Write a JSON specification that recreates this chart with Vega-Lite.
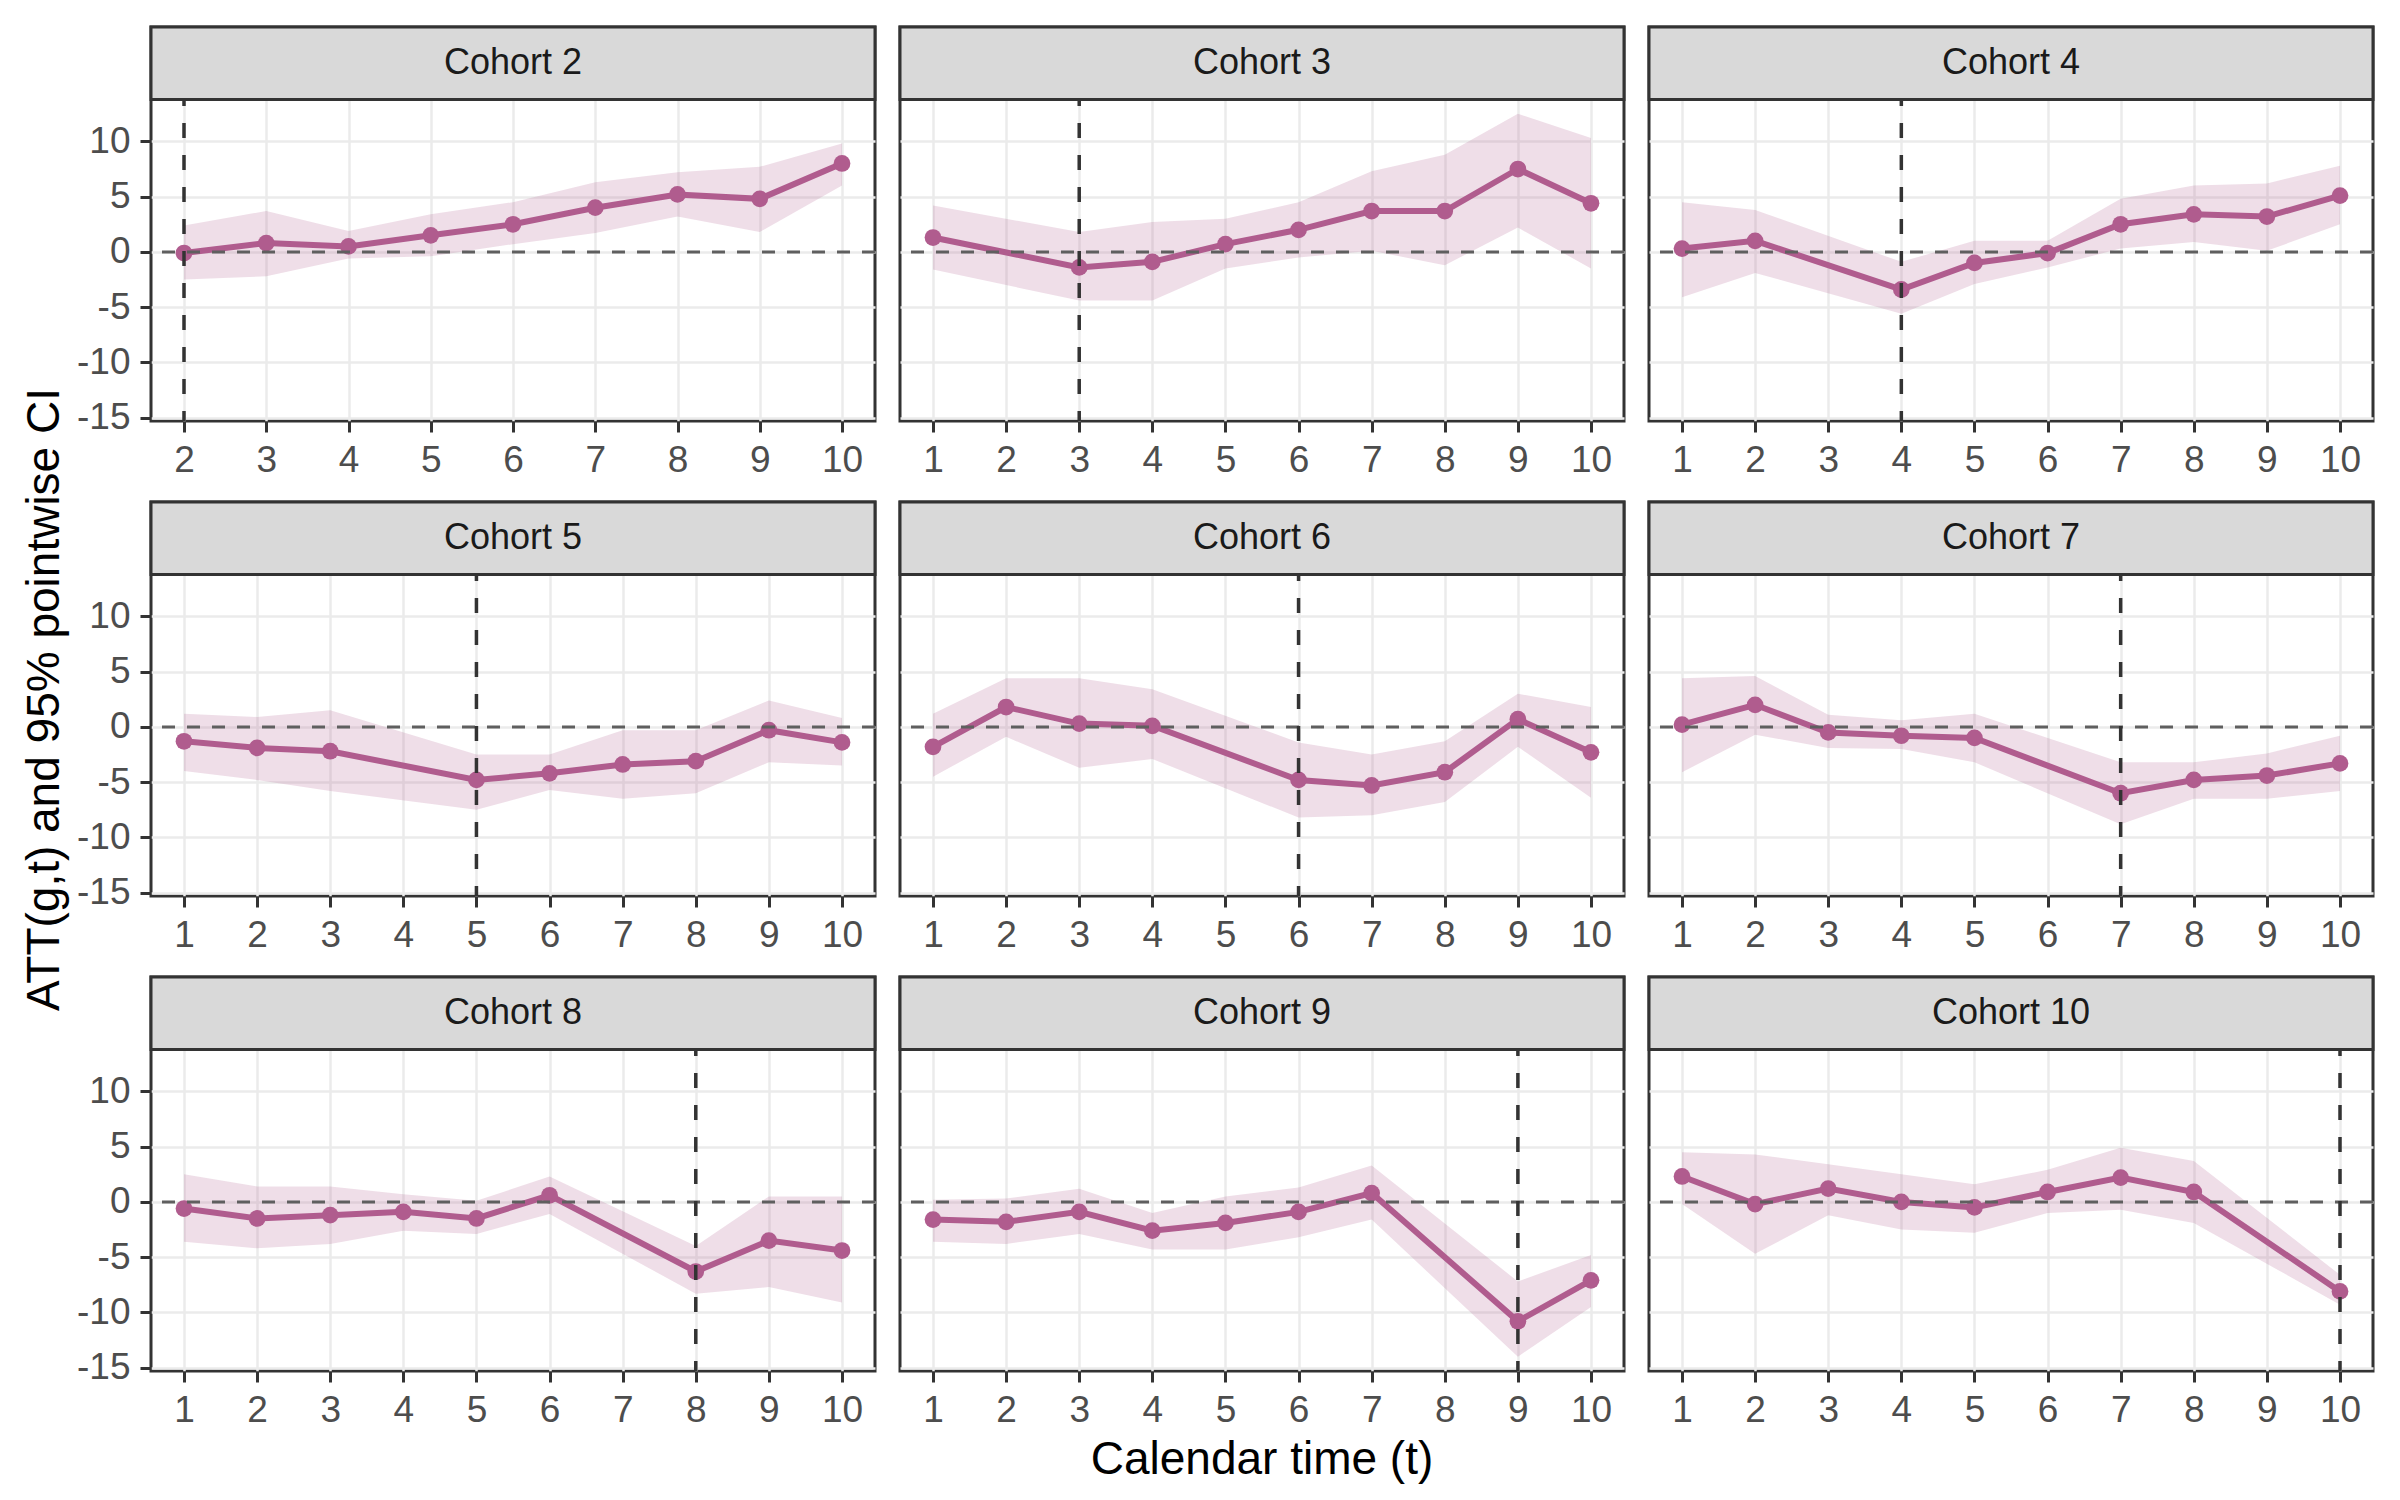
{
  "$schema": "https://vega.github.io/schema/vega-lite/v6.json",
  "background": "white",
  "padding": {"left": 20, "top": 23, "right": 24, "bottom": 18},
  "title": {
    "text": "Calendar time (t)",
    "orient": "bottom",
    "frame": "bounds",
    "anchor": "middle",
    "dx": 64,
    "offset": 8
  },
  "data": {
    "values": [
      {"cohort": "Cohort 2", "g": 2, "t": 2, "att": -0.1, "lower": -2.5, "upper": 2.4},
      {"cohort": "Cohort 2", "g": 2, "t": 3, "att": 0.8, "lower": -2.2, "upper": 3.7},
      {"cohort": "Cohort 2", "g": 2, "t": 4, "att": 0.5, "lower": -0.6, "upper": 1.9},
      {"cohort": "Cohort 2", "g": 2, "t": 5, "att": 1.5, "lower": -0.4, "upper": 3.4},
      {"cohort": "Cohort 2", "g": 2, "t": 6, "att": 2.5, "lower": 0.7, "upper": 4.5},
      {"cohort": "Cohort 2", "g": 2, "t": 7, "att": 4.0, "lower": 1.7, "upper": 6.3},
      {"cohort": "Cohort 2", "g": 2, "t": 8, "att": 5.2, "lower": 3.2, "upper": 7.2},
      {"cohort": "Cohort 2", "g": 2, "t": 9, "att": 4.8, "lower": 1.8, "upper": 7.7},
      {"cohort": "Cohort 2", "g": 2, "t": 10, "att": 8.0, "lower": 6.0, "upper": 9.8},
      {"cohort": "Cohort 3", "g": 3, "t": 1, "att": 1.3, "lower": -1.6, "upper": 4.2},
      {"cohort": "Cohort 3", "g": 3, "t": 3, "att": -1.4, "lower": -4.4, "upper": 1.8},
      {"cohort": "Cohort 3", "g": 3, "t": 4, "att": -0.9, "lower": -4.4, "upper": 2.7},
      {"cohort": "Cohort 3", "g": 3, "t": 5, "att": 0.7, "lower": -1.5, "upper": 3.0},
      {"cohort": "Cohort 3", "g": 3, "t": 6, "att": 2.0, "lower": -0.5, "upper": 4.5},
      {"cohort": "Cohort 3", "g": 3, "t": 7, "att": 3.7, "lower": 0.1, "upper": 7.3},
      {"cohort": "Cohort 3", "g": 3, "t": 8, "att": 3.7, "lower": -1.2, "upper": 8.8},
      {"cohort": "Cohort 3", "g": 3, "t": 9, "att": 7.5, "lower": 2.2, "upper": 12.5},
      {"cohort": "Cohort 3", "g": 3, "t": 10, "att": 4.4, "lower": -1.5, "upper": 10.3},
      {"cohort": "Cohort 4", "g": 4, "t": 1, "att": 0.3, "lower": -4.1, "upper": 4.5},
      {"cohort": "Cohort 4", "g": 4, "t": 2, "att": 1.0, "lower": -1.9, "upper": 3.8},
      {"cohort": "Cohort 4", "g": 4, "t": 4, "att": -3.4, "lower": -5.6, "upper": -0.9},
      {"cohort": "Cohort 4", "g": 4, "t": 5, "att": -1.0, "lower": -2.9, "upper": 1.0},
      {"cohort": "Cohort 4", "g": 4, "t": 6, "att": -0.1, "lower": -1.4, "upper": 1.0},
      {"cohort": "Cohort 4", "g": 4, "t": 7, "att": 2.5, "lower": 0.3, "upper": 4.8},
      {"cohort": "Cohort 4", "g": 4, "t": 8, "att": 3.4, "lower": 0.9, "upper": 6.0},
      {"cohort": "Cohort 4", "g": 4, "t": 9, "att": 3.2, "lower": 0.1, "upper": 6.2},
      {"cohort": "Cohort 4", "g": 4, "t": 10, "att": 5.1, "lower": 2.5, "upper": 7.8},
      {"cohort": "Cohort 5", "g": 5, "t": 1, "att": -1.3, "lower": -4.0, "upper": 1.2},
      {"cohort": "Cohort 5", "g": 5, "t": 2, "att": -1.9, "lower": -4.8, "upper": 0.9},
      {"cohort": "Cohort 5", "g": 5, "t": 3, "att": -2.2, "lower": -5.8, "upper": 1.5},
      {"cohort": "Cohort 5", "g": 5, "t": 5, "att": -4.8, "lower": -7.5, "upper": -2.5},
      {"cohort": "Cohort 5", "g": 5, "t": 6, "att": -4.2, "lower": -5.7, "upper": -2.5},
      {"cohort": "Cohort 5", "g": 5, "t": 7, "att": -3.4, "lower": -6.5, "upper": -0.3},
      {"cohort": "Cohort 5", "g": 5, "t": 8, "att": -3.1, "lower": -6.0, "upper": -0.3},
      {"cohort": "Cohort 5", "g": 5, "t": 9, "att": -0.3, "lower": -3.2, "upper": 2.4},
      {"cohort": "Cohort 5", "g": 5, "t": 10, "att": -1.4, "lower": -3.5, "upper": 0.8},
      {"cohort": "Cohort 6", "g": 6, "t": 1, "att": -1.8, "lower": -4.5, "upper": 1.2},
      {"cohort": "Cohort 6", "g": 6, "t": 2, "att": 1.8, "lower": -0.9, "upper": 4.4},
      {"cohort": "Cohort 6", "g": 6, "t": 3, "att": 0.3, "lower": -3.7, "upper": 4.4},
      {"cohort": "Cohort 6", "g": 6, "t": 4, "att": 0.1, "lower": -2.9, "upper": 3.4},
      {"cohort": "Cohort 6", "g": 6, "t": 6, "att": -4.8, "lower": -8.2, "upper": -1.4},
      {"cohort": "Cohort 6", "g": 6, "t": 7, "att": -5.3, "lower": -8.0, "upper": -2.5},
      {"cohort": "Cohort 6", "g": 6, "t": 8, "att": -4.1, "lower": -6.8, "upper": -1.3},
      {"cohort": "Cohort 6", "g": 6, "t": 9, "att": 0.7, "lower": -1.8, "upper": 3.0},
      {"cohort": "Cohort 6", "g": 6, "t": 10, "att": -2.3, "lower": -6.4, "upper": 1.8},
      {"cohort": "Cohort 7", "g": 7, "t": 1, "att": 0.2, "lower": -4.1, "upper": 4.4},
      {"cohort": "Cohort 7", "g": 7, "t": 2, "att": 2.0, "lower": -0.7, "upper": 4.6},
      {"cohort": "Cohort 7", "g": 7, "t": 3, "att": -0.5, "lower": -1.9, "upper": 1.1},
      {"cohort": "Cohort 7", "g": 7, "t": 4, "att": -0.8, "lower": -2.0, "upper": 0.6},
      {"cohort": "Cohort 7", "g": 7, "t": 5, "att": -1.0, "lower": -3.2, "upper": 1.2},
      {"cohort": "Cohort 7", "g": 7, "t": 7, "att": -6.0, "lower": -8.8, "upper": -3.2},
      {"cohort": "Cohort 7", "g": 7, "t": 8, "att": -4.8, "lower": -6.5, "upper": -3.2},
      {"cohort": "Cohort 7", "g": 7, "t": 9, "att": -4.4, "lower": -6.5, "upper": -2.4},
      {"cohort": "Cohort 7", "g": 7, "t": 10, "att": -3.3, "lower": -5.8, "upper": -0.8},
      {"cohort": "Cohort 8", "g": 8, "t": 1, "att": -0.6, "lower": -3.6, "upper": 2.5},
      {"cohort": "Cohort 8", "g": 8, "t": 2, "att": -1.5, "lower": -4.2, "upper": 1.4},
      {"cohort": "Cohort 8", "g": 8, "t": 3, "att": -1.2, "lower": -3.8, "upper": 1.4},
      {"cohort": "Cohort 8", "g": 8, "t": 4, "att": -0.9, "lower": -2.6, "upper": 0.7},
      {"cohort": "Cohort 8", "g": 8, "t": 5, "att": -1.5, "lower": -2.9, "upper": 0.1},
      {"cohort": "Cohort 8", "g": 8, "t": 6, "att": 0.6, "lower": -1.1, "upper": 2.3},
      {"cohort": "Cohort 8", "g": 8, "t": 8, "att": -6.3, "lower": -8.3, "upper": -4.0},
      {"cohort": "Cohort 8", "g": 8, "t": 9, "att": -3.5, "lower": -7.7, "upper": 0.5},
      {"cohort": "Cohort 8", "g": 8, "t": 10, "att": -4.4, "lower": -9.1, "upper": 0.5},
      {"cohort": "Cohort 9", "g": 9, "t": 1, "att": -1.6, "lower": -3.6, "upper": 0.2},
      {"cohort": "Cohort 9", "g": 9, "t": 2, "att": -1.8, "lower": -3.8, "upper": 0.3},
      {"cohort": "Cohort 9", "g": 9, "t": 3, "att": -0.9, "lower": -2.9, "upper": 1.2},
      {"cohort": "Cohort 9", "g": 9, "t": 4, "att": -2.6, "lower": -4.3, "upper": -1.0},
      {"cohort": "Cohort 9", "g": 9, "t": 5, "att": -1.9, "lower": -4.3, "upper": 0.5},
      {"cohort": "Cohort 9", "g": 9, "t": 6, "att": -0.9, "lower": -3.2, "upper": 1.3},
      {"cohort": "Cohort 9", "g": 9, "t": 7, "att": 0.8, "lower": -1.6, "upper": 3.3},
      {"cohort": "Cohort 9", "g": 9, "t": 9, "att": -10.8, "lower": -14.0, "upper": -7.2},
      {"cohort": "Cohort 9", "g": 9, "t": 10, "att": -7.1, "lower": -9.5, "upper": -4.8},
      {"cohort": "Cohort 10", "g": 10, "t": 1, "att": 2.3, "lower": -0.2, "upper": 4.5},
      {"cohort": "Cohort 10", "g": 10, "t": 2, "att": -0.2, "lower": -4.7, "upper": 4.3},
      {"cohort": "Cohort 10", "g": 10, "t": 3, "att": 1.2, "lower": -1.2, "upper": 3.4},
      {"cohort": "Cohort 10", "g": 10, "t": 4, "att": 0.0, "lower": -2.5, "upper": 2.5},
      {"cohort": "Cohort 10", "g": 10, "t": 5, "att": -0.5, "lower": -2.8, "upper": 1.6},
      {"cohort": "Cohort 10", "g": 10, "t": 6, "att": 0.9, "lower": -1.0, "upper": 2.9},
      {"cohort": "Cohort 10", "g": 10, "t": 7, "att": 2.2, "lower": -0.7, "upper": 4.9},
      {"cohort": "Cohort 10", "g": 10, "t": 8, "att": 0.9, "lower": -1.9, "upper": 3.7},
      {"cohort": "Cohort 10", "g": 10, "t": 10, "att": -8.1, "lower": -9.3, "upper": -6.6}
    ]
  },
  "columns": 3,
  "bounds": "flush",
  "spacing": {"row": 81, "column": 25},
  "resolve": {"scale": {"x": "independent", "y": "independent"}},
  "concat": [
    {
      "transform": [{"filter": "datum.g == 2"}],
      "width": 724, "height": 394,
      "encoding": {"x": {"field": "t", "type": "quantitative", "scale": {"nice": false, "zero": false, "padding": 33}, "axis": {"values": [1, 2, 3, 4, 5, 6, 7, 8, 9, 10], "title": null}}},
      "layer": [
        {"mark": {"type": "area", "color": "#B05C8E", "opacity": 0.2}, "encoding": {"y": {"field": "lower", "type": "quantitative", "scale": {"domain": [-15.3, 20.35], "nice": false, "zero": false}, "axis": {"values": [-15, -10, -5, 0, 5, 10], "title": null, "labelExpr": "'' + datum.value"}}, "y2": {"field": "upper"}}},
        {"mark": {"type": "line", "color": "#B05C8E", "strokeWidth": 6}, "encoding": {"y": {"field": "att", "type": "quantitative"}}},
        {"mark": {"type": "circle", "color": "#B05C8E", "opacity": 1, "size": 280}, "encoding": {"y": {"field": "att", "type": "quantitative"}}},
        {"transform": [{"filter": "datum.t == 10"}], "mark": {"type": "rule", "color": "#5F5F5F", "strokeWidth": 3, "strokeDash": [13, 12]}, "encoding": {"x": null, "y": {"datum": 0}}},
        {"transform": [{"filter": "datum.t == datum.g"}], "mark": {"type": "rule", "color": "#333333", "strokeWidth": 3.5, "strokeDash": [15, 17]}, "encoding": {}},
        {"transform": [{"filter": "datum.t == 10"}], "mark": {"type": "rect", "fill": "#D9D9D9", "stroke": "#333333", "strokeWidth": 3}, "encoding": {"x": null, "y": {"datum": 13.8}, "y2": {"datum": 20.35}}},
        {"transform": [{"filter": "datum.t == 10"}], "mark": {"type": "text", "font": "Liberation Sans", "fontSize": 36, "color": "#1A1A1A", "baseline": "middle"}, "encoding": {"x": null, "y": {"datum": 17.1}, "text": {"field": "cohort", "type": "nominal"}}}
      ]
    },
    {
      "transform": [{"filter": "datum.g == 3"}],
      "width": 724, "height": 394,
      "encoding": {"x": {"field": "t", "type": "quantitative", "scale": {"nice": false, "zero": false, "padding": 33}, "axis": {"values": [1, 2, 3, 4, 5, 6, 7, 8, 9, 10], "title": null}}},
      "layer": [
        {"mark": {"type": "area", "color": "#B05C8E", "opacity": 0.2}, "encoding": {"y": {"field": "lower", "type": "quantitative", "scale": {"domain": [-15.3, 20.35], "nice": false, "zero": false}, "axis": {"values": [-15, -10, -5, 0, 5, 10], "title": null, "labels": false, "ticks": false}}, "y2": {"field": "upper"}}},
        {"mark": {"type": "line", "color": "#B05C8E", "strokeWidth": 6}, "encoding": {"y": {"field": "att", "type": "quantitative"}}},
        {"mark": {"type": "circle", "color": "#B05C8E", "opacity": 1, "size": 280}, "encoding": {"y": {"field": "att", "type": "quantitative"}}},
        {"transform": [{"filter": "datum.t == 10"}], "mark": {"type": "rule", "color": "#5F5F5F", "strokeWidth": 3, "strokeDash": [13, 12]}, "encoding": {"x": null, "y": {"datum": 0}}},
        {"transform": [{"filter": "datum.t == datum.g"}], "mark": {"type": "rule", "color": "#333333", "strokeWidth": 3.5, "strokeDash": [15, 17]}, "encoding": {}},
        {"transform": [{"filter": "datum.t == 10"}], "mark": {"type": "rect", "fill": "#D9D9D9", "stroke": "#333333", "strokeWidth": 3}, "encoding": {"x": null, "y": {"datum": 13.8}, "y2": {"datum": 20.35}}},
        {"transform": [{"filter": "datum.t == 10"}], "mark": {"type": "text", "font": "Liberation Sans", "fontSize": 36, "color": "#1A1A1A", "baseline": "middle"}, "encoding": {"x": null, "y": {"datum": 17.1}, "text": {"field": "cohort", "type": "nominal"}}}
      ]
    },
    {
      "transform": [{"filter": "datum.g == 4"}],
      "width": 724, "height": 394,
      "encoding": {"x": {"field": "t", "type": "quantitative", "scale": {"nice": false, "zero": false, "padding": 33}, "axis": {"values": [1, 2, 3, 4, 5, 6, 7, 8, 9, 10], "title": null}}},
      "layer": [
        {"mark": {"type": "area", "color": "#B05C8E", "opacity": 0.2}, "encoding": {"y": {"field": "lower", "type": "quantitative", "scale": {"domain": [-15.3, 20.35], "nice": false, "zero": false}, "axis": {"values": [-15, -10, -5, 0, 5, 10], "title": null, "labels": false, "ticks": false}}, "y2": {"field": "upper"}}},
        {"mark": {"type": "line", "color": "#B05C8E", "strokeWidth": 6}, "encoding": {"y": {"field": "att", "type": "quantitative"}}},
        {"mark": {"type": "circle", "color": "#B05C8E", "opacity": 1, "size": 280}, "encoding": {"y": {"field": "att", "type": "quantitative"}}},
        {"transform": [{"filter": "datum.t == 10"}], "mark": {"type": "rule", "color": "#5F5F5F", "strokeWidth": 3, "strokeDash": [13, 12]}, "encoding": {"x": null, "y": {"datum": 0}}},
        {"transform": [{"filter": "datum.t == datum.g"}], "mark": {"type": "rule", "color": "#333333", "strokeWidth": 3.5, "strokeDash": [15, 17]}, "encoding": {}},
        {"transform": [{"filter": "datum.t == 10"}], "mark": {"type": "rect", "fill": "#D9D9D9", "stroke": "#333333", "strokeWidth": 3}, "encoding": {"x": null, "y": {"datum": 13.8}, "y2": {"datum": 20.35}}},
        {"transform": [{"filter": "datum.t == 10"}], "mark": {"type": "text", "font": "Liberation Sans", "fontSize": 36, "color": "#1A1A1A", "baseline": "middle"}, "encoding": {"x": null, "y": {"datum": 17.1}, "text": {"field": "cohort", "type": "nominal"}}}
      ]
    },
    {
      "transform": [{"filter": "datum.g == 5"}],
      "width": 724, "height": 394,
      "encoding": {"x": {"field": "t", "type": "quantitative", "scale": {"nice": false, "zero": false, "padding": 33}, "axis": {"values": [1, 2, 3, 4, 5, 6, 7, 8, 9, 10], "title": null}}},
      "layer": [
        {"mark": {"type": "area", "color": "#B05C8E", "opacity": 0.2}, "encoding": {"y": {"field": "lower", "type": "quantitative", "scale": {"domain": [-15.3, 20.35], "nice": false, "zero": false}, "axis": {"values": [-15, -10, -5, 0, 5, 10], "title": "ATT(g,t) and 95% pointwise CI", "labelExpr": "'' + datum.value"}}, "y2": {"field": "upper"}}},
        {"mark": {"type": "line", "color": "#B05C8E", "strokeWidth": 6}, "encoding": {"y": {"field": "att", "type": "quantitative"}}},
        {"mark": {"type": "circle", "color": "#B05C8E", "opacity": 1, "size": 280}, "encoding": {"y": {"field": "att", "type": "quantitative"}}},
        {"transform": [{"filter": "datum.t == 10"}], "mark": {"type": "rule", "color": "#5F5F5F", "strokeWidth": 3, "strokeDash": [13, 12]}, "encoding": {"x": null, "y": {"datum": 0}}},
        {"transform": [{"filter": "datum.t == datum.g"}], "mark": {"type": "rule", "color": "#333333", "strokeWidth": 3.5, "strokeDash": [15, 17]}, "encoding": {}},
        {"transform": [{"filter": "datum.t == 10"}], "mark": {"type": "rect", "fill": "#D9D9D9", "stroke": "#333333", "strokeWidth": 3}, "encoding": {"x": null, "y": {"datum": 13.8}, "y2": {"datum": 20.35}}},
        {"transform": [{"filter": "datum.t == 10"}], "mark": {"type": "text", "font": "Liberation Sans", "fontSize": 36, "color": "#1A1A1A", "baseline": "middle"}, "encoding": {"x": null, "y": {"datum": 17.1}, "text": {"field": "cohort", "type": "nominal"}}}
      ]
    },
    {
      "transform": [{"filter": "datum.g == 6"}],
      "width": 724, "height": 394,
      "encoding": {"x": {"field": "t", "type": "quantitative", "scale": {"nice": false, "zero": false, "padding": 33}, "axis": {"values": [1, 2, 3, 4, 5, 6, 7, 8, 9, 10], "title": null}}},
      "layer": [
        {"mark": {"type": "area", "color": "#B05C8E", "opacity": 0.2}, "encoding": {"y": {"field": "lower", "type": "quantitative", "scale": {"domain": [-15.3, 20.35], "nice": false, "zero": false}, "axis": {"values": [-15, -10, -5, 0, 5, 10], "title": null, "labels": false, "ticks": false}}, "y2": {"field": "upper"}}},
        {"mark": {"type": "line", "color": "#B05C8E", "strokeWidth": 6}, "encoding": {"y": {"field": "att", "type": "quantitative"}}},
        {"mark": {"type": "circle", "color": "#B05C8E", "opacity": 1, "size": 280}, "encoding": {"y": {"field": "att", "type": "quantitative"}}},
        {"transform": [{"filter": "datum.t == 10"}], "mark": {"type": "rule", "color": "#5F5F5F", "strokeWidth": 3, "strokeDash": [13, 12]}, "encoding": {"x": null, "y": {"datum": 0}}},
        {"transform": [{"filter": "datum.t == datum.g"}], "mark": {"type": "rule", "color": "#333333", "strokeWidth": 3.5, "strokeDash": [15, 17]}, "encoding": {}},
        {"transform": [{"filter": "datum.t == 10"}], "mark": {"type": "rect", "fill": "#D9D9D9", "stroke": "#333333", "strokeWidth": 3}, "encoding": {"x": null, "y": {"datum": 13.8}, "y2": {"datum": 20.35}}},
        {"transform": [{"filter": "datum.t == 10"}], "mark": {"type": "text", "font": "Liberation Sans", "fontSize": 36, "color": "#1A1A1A", "baseline": "middle"}, "encoding": {"x": null, "y": {"datum": 17.1}, "text": {"field": "cohort", "type": "nominal"}}}
      ]
    },
    {
      "transform": [{"filter": "datum.g == 7"}],
      "width": 724, "height": 394,
      "encoding": {"x": {"field": "t", "type": "quantitative", "scale": {"nice": false, "zero": false, "padding": 33}, "axis": {"values": [1, 2, 3, 4, 5, 6, 7, 8, 9, 10], "title": null}}},
      "layer": [
        {"mark": {"type": "area", "color": "#B05C8E", "opacity": 0.2}, "encoding": {"y": {"field": "lower", "type": "quantitative", "scale": {"domain": [-15.3, 20.35], "nice": false, "zero": false}, "axis": {"values": [-15, -10, -5, 0, 5, 10], "title": null, "labels": false, "ticks": false}}, "y2": {"field": "upper"}}},
        {"mark": {"type": "line", "color": "#B05C8E", "strokeWidth": 6}, "encoding": {"y": {"field": "att", "type": "quantitative"}}},
        {"mark": {"type": "circle", "color": "#B05C8E", "opacity": 1, "size": 280}, "encoding": {"y": {"field": "att", "type": "quantitative"}}},
        {"transform": [{"filter": "datum.t == 10"}], "mark": {"type": "rule", "color": "#5F5F5F", "strokeWidth": 3, "strokeDash": [13, 12]}, "encoding": {"x": null, "y": {"datum": 0}}},
        {"transform": [{"filter": "datum.t == datum.g"}], "mark": {"type": "rule", "color": "#333333", "strokeWidth": 3.5, "strokeDash": [15, 17]}, "encoding": {}},
        {"transform": [{"filter": "datum.t == 10"}], "mark": {"type": "rect", "fill": "#D9D9D9", "stroke": "#333333", "strokeWidth": 3}, "encoding": {"x": null, "y": {"datum": 13.8}, "y2": {"datum": 20.35}}},
        {"transform": [{"filter": "datum.t == 10"}], "mark": {"type": "text", "font": "Liberation Sans", "fontSize": 36, "color": "#1A1A1A", "baseline": "middle"}, "encoding": {"x": null, "y": {"datum": 17.1}, "text": {"field": "cohort", "type": "nominal"}}}
      ]
    },
    {
      "transform": [{"filter": "datum.g == 8"}],
      "width": 724, "height": 394,
      "encoding": {"x": {"field": "t", "type": "quantitative", "scale": {"nice": false, "zero": false, "padding": 33}, "axis": {"values": [1, 2, 3, 4, 5, 6, 7, 8, 9, 10], "title": null}}},
      "layer": [
        {"mark": {"type": "area", "color": "#B05C8E", "opacity": 0.2}, "encoding": {"y": {"field": "lower", "type": "quantitative", "scale": {"domain": [-15.3, 20.35], "nice": false, "zero": false}, "axis": {"values": [-15, -10, -5, 0, 5, 10], "title": null, "labelExpr": "'' + datum.value"}}, "y2": {"field": "upper"}}},
        {"mark": {"type": "line", "color": "#B05C8E", "strokeWidth": 6}, "encoding": {"y": {"field": "att", "type": "quantitative"}}},
        {"mark": {"type": "circle", "color": "#B05C8E", "opacity": 1, "size": 280}, "encoding": {"y": {"field": "att", "type": "quantitative"}}},
        {"transform": [{"filter": "datum.t == 10"}], "mark": {"type": "rule", "color": "#5F5F5F", "strokeWidth": 3, "strokeDash": [13, 12]}, "encoding": {"x": null, "y": {"datum": 0}}},
        {"transform": [{"filter": "datum.t == datum.g"}], "mark": {"type": "rule", "color": "#333333", "strokeWidth": 3.5, "strokeDash": [15, 17]}, "encoding": {}},
        {"transform": [{"filter": "datum.t == 10"}], "mark": {"type": "rect", "fill": "#D9D9D9", "stroke": "#333333", "strokeWidth": 3}, "encoding": {"x": null, "y": {"datum": 13.8}, "y2": {"datum": 20.35}}},
        {"transform": [{"filter": "datum.t == 10"}], "mark": {"type": "text", "font": "Liberation Sans", "fontSize": 36, "color": "#1A1A1A", "baseline": "middle"}, "encoding": {"x": null, "y": {"datum": 17.1}, "text": {"field": "cohort", "type": "nominal"}}}
      ]
    },
    {
      "transform": [{"filter": "datum.g == 9"}],
      "width": 724, "height": 394,
      "encoding": {"x": {"field": "t", "type": "quantitative", "scale": {"nice": false, "zero": false, "padding": 33}, "axis": {"values": [1, 2, 3, 4, 5, 6, 7, 8, 9, 10], "title": null}}},
      "layer": [
        {"mark": {"type": "area", "color": "#B05C8E", "opacity": 0.2}, "encoding": {"y": {"field": "lower", "type": "quantitative", "scale": {"domain": [-15.3, 20.35], "nice": false, "zero": false}, "axis": {"values": [-15, -10, -5, 0, 5, 10], "title": null, "labels": false, "ticks": false}}, "y2": {"field": "upper"}}},
        {"mark": {"type": "line", "color": "#B05C8E", "strokeWidth": 6}, "encoding": {"y": {"field": "att", "type": "quantitative"}}},
        {"mark": {"type": "circle", "color": "#B05C8E", "opacity": 1, "size": 280}, "encoding": {"y": {"field": "att", "type": "quantitative"}}},
        {"transform": [{"filter": "datum.t == 10"}], "mark": {"type": "rule", "color": "#5F5F5F", "strokeWidth": 3, "strokeDash": [13, 12]}, "encoding": {"x": null, "y": {"datum": 0}}},
        {"transform": [{"filter": "datum.t == datum.g"}], "mark": {"type": "rule", "color": "#333333", "strokeWidth": 3.5, "strokeDash": [15, 17]}, "encoding": {}},
        {"transform": [{"filter": "datum.t == 10"}], "mark": {"type": "rect", "fill": "#D9D9D9", "stroke": "#333333", "strokeWidth": 3}, "encoding": {"x": null, "y": {"datum": 13.8}, "y2": {"datum": 20.35}}},
        {"transform": [{"filter": "datum.t == 10"}], "mark": {"type": "text", "font": "Liberation Sans", "fontSize": 36, "color": "#1A1A1A", "baseline": "middle"}, "encoding": {"x": null, "y": {"datum": 17.1}, "text": {"field": "cohort", "type": "nominal"}}}
      ]
    },
    {
      "transform": [{"filter": "datum.g == 10"}],
      "width": 724, "height": 394,
      "encoding": {"x": {"field": "t", "type": "quantitative", "scale": {"nice": false, "zero": false, "padding": 33}, "axis": {"values": [1, 2, 3, 4, 5, 6, 7, 8, 9, 10], "title": null}}},
      "layer": [
        {"mark": {"type": "area", "color": "#B05C8E", "opacity": 0.2}, "encoding": {"y": {"field": "lower", "type": "quantitative", "scale": {"domain": [-15.3, 20.35], "nice": false, "zero": false}, "axis": {"values": [-15, -10, -5, 0, 5, 10], "title": null, "labels": false, "ticks": false}}, "y2": {"field": "upper"}}},
        {"mark": {"type": "line", "color": "#B05C8E", "strokeWidth": 6}, "encoding": {"y": {"field": "att", "type": "quantitative"}}},
        {"mark": {"type": "circle", "color": "#B05C8E", "opacity": 1, "size": 280}, "encoding": {"y": {"field": "att", "type": "quantitative"}}},
        {"transform": [{"filter": "datum.t == 10"}], "mark": {"type": "rule", "color": "#5F5F5F", "strokeWidth": 3, "strokeDash": [13, 12]}, "encoding": {"x": null, "y": {"datum": 0}}},
        {"transform": [{"filter": "datum.t == datum.g"}], "mark": {"type": "rule", "color": "#333333", "strokeWidth": 3.5, "strokeDash": [15, 17]}, "encoding": {}},
        {"transform": [{"filter": "datum.t == 10"}], "mark": {"type": "rect", "fill": "#D9D9D9", "stroke": "#333333", "strokeWidth": 3}, "encoding": {"x": null, "y": {"datum": 13.8}, "y2": {"datum": 20.35}}},
        {"transform": [{"filter": "datum.t == 10"}], "mark": {"type": "text", "font": "Liberation Sans", "fontSize": 36, "color": "#1A1A1A", "baseline": "middle"}, "encoding": {"x": null, "y": {"datum": 17.1}, "text": {"field": "cohort", "type": "nominal"}}}
      ]
    }
  ],
  "config": {
    "view": {"stroke": "#333333", "strokeWidth": 3},
    "title": {
      "font": "Liberation Sans",
      "fontSize": 46,
      "fontWeight": "normal",
      "color": "#000000"
    },
    "axis": {
      "labelFont": "Liberation Sans",
      "labelFontSize": 37,
      "labelColor": "#4D4D4D",
      "labelPadding": 10,
      "tickColor": "#333333",
      "tickWidth": 3,
      "tickSize": 11,
      "domain": false,
      "gridColor": "#EBEBEB",
      "gridWidth": 2.5,
      "titleFont": "Liberation Sans",
      "titleFontSize": 46,
      "titleFontWeight": "normal",
      "titleColor": "#000000",
      "titlePadding": 8
    }
  }
}
